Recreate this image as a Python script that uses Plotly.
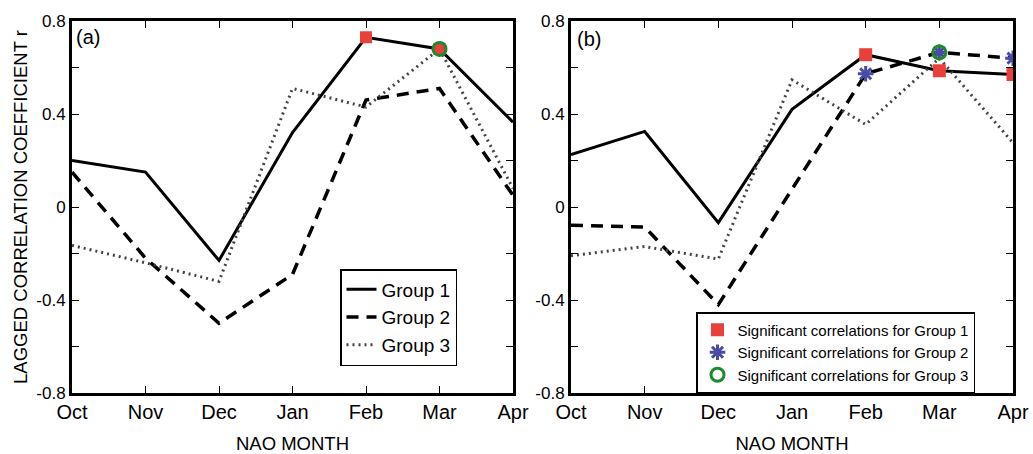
import plotly.graph_objects as go

months = ["Oct", "Nov", "Dec", "Jan", "Feb", "Mar", "Apr"]

# Panel (a)
a_group1 = [0.20, 0.15, -0.23, 0.32, 0.73, 0.68, 0.365]
a_group2 = [0.15, -0.22, -0.50, -0.29, 0.46, 0.51, 0.05]
a_group3 = [-0.165, -0.24, -0.32, 0.51, 0.43, 0.68, 0.08]
a_sig1_months = ["Feb", "Mar"]
a_sig1_vals = [0.73, 0.68]
a_sig3_months = ["Mar"]
a_sig3_vals = [0.68]

# Panel (b)
b_group1 = [0.225, 0.325, -0.067, 0.42, 0.655, 0.586, 0.57]
b_group2 = [-0.078, -0.086, -0.42, 0.075, 0.573, 0.665, 0.64]
b_group3 = [-0.21, -0.17, -0.224, 0.547, 0.355, 0.64, 0.276]
b_sig1_months = ["Feb", "Mar", "Apr"]
b_sig1_vals = [0.655, 0.586, 0.57]
b_sig2_months = ["Feb", "Mar", "Apr"]
b_sig2_vals = [0.573, 0.665, 0.64]
b_sig3_months = ["Mar"]
b_sig3_vals = [0.665]

yticks = [-0.8, -0.4, 0, 0.4, 0.8]
ytick_text = ["-0.8", "-0.4", "0", "0.4", "0.8"]

FONT = "Liberation Sans, Arial, sans-serif"
RED = "#e8413c"
BLUE = "#4a4aa8"
GREEN = "#1f8a2a"

solid = dict(color="black", width=3)
dashed = dict(color="black", width=3.5, dash="12px,8px")
dotted = dict(color="#444444", width=3, dash="2px,4px")

fig = go.Figure()

# panel a lines
for name, vals, ln, g in [("Group 1", a_group1, solid, "g1"),
                          ("Group 2", a_group2, dashed, "g2"),
                          ("Group 3", a_group3, dotted, "g3")]:
    fig.add_trace(go.Scatter(x=months, y=vals, mode="lines", line=ln, name=name,
                             xaxis="x", yaxis="y", legend="legend", legendgroup=g))
fig.add_trace(go.Scatter(x=a_sig1_months, y=a_sig1_vals, mode="markers",
                         marker=dict(symbol="square", size=12, color=RED),
                         xaxis="x", yaxis="y", showlegend=False))
fig.add_trace(go.Scatter(x=a_sig3_months, y=a_sig3_vals, mode="markers",
                         marker=dict(symbol="circle-open", size=13, color=GREEN, line=dict(width=3, color=GREEN)),
                         xaxis="x", yaxis="y", showlegend=False))

# panel b lines
for vals, ln in [(b_group1, solid), (b_group2, dashed), (b_group3, dotted)]:
    fig.add_trace(go.Scatter(x=months, y=vals, mode="lines", line=ln,
                             xaxis="x2", yaxis="y2", showlegend=False))
fig.add_trace(go.Scatter(x=b_sig1_months, y=b_sig1_vals, mode="markers",
                         marker=dict(symbol="square", size=13, color=RED),
                         name="Significant correlations for Group 1",
                         xaxis="x2", yaxis="y2", legend="legend2", legendgroup="s1"))
fig.add_trace(go.Scatter(x=b_sig2_months, y=b_sig2_vals, mode="markers",
                         marker=dict(symbol="asterisk-open", size=13, color=BLUE, line=dict(width=3, color=BLUE)),
                         name="Significant correlations for Group 2",
                         xaxis="x2", yaxis="y2", legend="legend2", legendgroup="s2"))
fig.add_trace(go.Scatter(x=b_sig3_months, y=b_sig3_vals, mode="markers",
                         marker=dict(symbol="circle-open", size=13, color=GREEN, line=dict(width=3, color=GREEN)),
                         name="Significant correlations for Group 3",
                         xaxis="x2", yaxis="y2", legend="legend2", legendgroup="s3"))

ML, MR, MT, MB = 10, 10, 21, 61
W, H = 1033, 454
PW = W - ML - MR
PH = H - MT - MB

def fx(px):
    return (px - ML) / PW

def fy(py):
    return (H - MB - py) / PH

common_x = dict(type="category", categoryorder="array", categoryarray=months,
                range=[0, 6], showline=True, linecolor="black", linewidth=3, mirror="ticks",
                ticks="inside", ticklen=7, tickcolor="black", tickwidth=1,
                tickfont=dict(family=FONT, size=20, color="black"), ticklabelstandoff=-1,
                showgrid=False, zeroline=False, automargin=False,
                title=dict(text="NAO MONTH", font=dict(family=FONT, size=18.5, color="black"), standoff=17))
common_y = dict(range=[-0.8, 0.8], tickvals=yticks, ticktext=ytick_text,
                showline=True, linecolor="black", linewidth=3, mirror="ticks",
                ticks="inside", ticklen=7, tickcolor="black", tickwidth=1,
                minor=dict(dtick=0.2, tick0=0, ticks="inside", ticklen=7, tickcolor="black"),
                tickfont=dict(family=FONT, size=17, color="black"), ticklabelstandoff=0,
                showgrid=False, zeroline=False, automargin=False)

fig.update_layout(
    width=W, height=H,
    margin=dict(l=ML, r=MR, t=MT, b=MB),
    paper_bgcolor="white", plot_bgcolor="white",
    xaxis=dict(domain=[fx(72), fx(513)], anchor="y", **common_x),
    yaxis=dict(domain=[0, 1], anchor="x",
               title=dict(text="LAGGED CORRELATION COEFFICIENT r",
                          font=dict(family=FONT, size=18.5, color="black"), standoff=4),
               **common_y),
    xaxis2=dict(domain=[fx(571), fx(1013)], anchor="y2", **common_x),
    yaxis2=dict(domain=[0, 1], anchor="x2", **common_y),
    legend=dict(x=fx(340), y=fy(269), xanchor="left", yanchor="top",
                bgcolor="white", bordercolor="black", borderwidth=1.5,
                font=dict(family=FONT, size=19, color="black"),
                tracegroupgap=0),
    legend2=dict(x=fx(696), y=fy(312), xanchor="left", yanchor="top",
                 bgcolor="white", bordercolor="black", borderwidth=1.5,
                 font=dict(family=FONT, size=15, color="black"),
                 tracegroupgap=0),
    annotations=[
        dict(text="(a)", x=0.0, y=1.0, xref="x domain", yref="y domain", xanchor="left", yanchor="top",
             xshift=2, yshift=-3, showarrow=False, font=dict(family=FONT, size=20, color="black")),
        dict(text="(b)", x=0.0, y=1.0, xref="x2 domain", yref="y2 domain", xanchor="left", yanchor="top",
             xshift=4, yshift=-5, showarrow=False, font=dict(family=FONT, size=20, color="black")),
    ],
)

fig.write_html("out.html", post_script="document.body.style.margin='0';",
               config={"displayModeBar": False})
